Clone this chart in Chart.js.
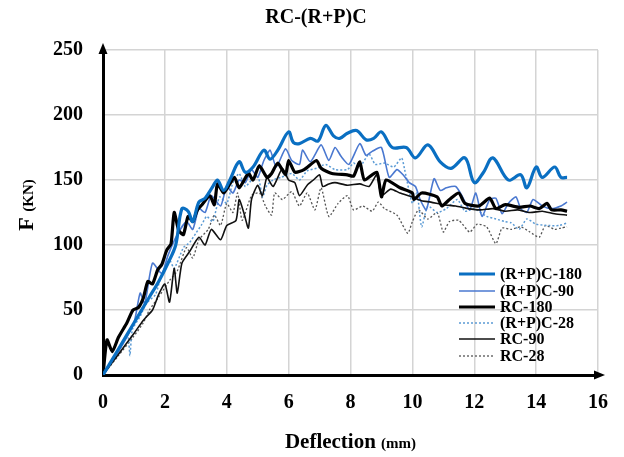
<!DOCTYPE html>
<html><head><meta charset="utf-8">
<script src="https://cdn.jsdelivr.net/npm/chart.js@4.4.1/dist/chart.umd.min.js"></script>
<style>html,body{margin:0;padding:0;background:#fff}#wrap{width:624px;height:457px}</style>
</head><body><div id="wrap"><canvas id="c" width="624" height="457"></canvas></div>
<script>
const chartTitle = "RC-(R+P)C";
const seriesNames = ["(R+P)C-180", "(R+P)C-90", "RC-180", "(R+P)C-28", "RC-90", "RC-28"];
const xTicks = [0, 2, 4, 6, 8, 10, 12, 14, 16];
const yTicks = [0, 50, 100, 150, 200, 250];

const rpc180X = [0,0.4,0.8,1.2,1.5,1.8,2.1,2.35,2.55,2.75,2.9,3.1,3.3,3.55,3.7,3.9,4.1,4.4,4.6,4.85,5.2,5.4,5.65,6.0,6.15,6.35,6.7,6.95,7.2,7.45,7.65,7.9,8.2,8.5,8.75,9.0,9.35,9.8,10.1,10.5,10.9,11.25,11.7,12.0,12.3,12.6,13.1,13.5,13.7,14.0,14.2,14.6,14.8,15.0];
const rpc180Y = [0,16,32,48,60,72,86,100,128,126,118,133,136,145,150,142,150,164,156,160,173,166,173,187,179,178,182,180,192,184,182,186,188,181,182,187,175,175,167,177,164,159,167,148,156,167,150,154,144,160,152,160,152,152];

const rpc90X = [0,0.5,1.0,1.2,1.35,1.6,1.9,2.1,2.4,2.7,2.9,3.1,3.3,3.5,3.8,4.0,4.2,4.4,4.6,4.8,5.0,5.2,5.4,5.6,5.9,6.1,6.35,6.45,6.7,7.05,7.3,7.5,7.7,7.95,8.3,8.5,8.7,9.0,9.25,9.5,9.7,9.9,10.1,10.25,10.45,10.7,10.9,11.1,11.4,11.6,11.85,12.05,12.25,12.5,12.7,12.9,13.1,13.35,13.5,13.7,13.9,14.2,14.5,14.8,15.0];
const rpc90Y = [0,18,40,63,55,86,78,92,108,118,112,128,125,138,130,145,140,150,148,158,152,165,173,160,174,165,162,173,164,177,165,175,168,162,178,169,172,175,152,158,154,148,145,135,127,151,142,144,145,138,127,140,122,135,136,124,132,137,128,125,135,130,128,130,133];

const rc180X = [0,0.13,0.3,0.5,0.77,0.97,1.15,1.3,1.45,1.6,1.77,1.9,2.06,2.2,2.3,2.45,2.6,2.75,2.9,3.05,3.2,3.45,3.6,3.7,3.9,4.05,4.25,4.4,4.7,4.85,5.05,5.3,5.45,5.65,5.9,6.0,6.2,6.5,6.9,7.05,7.4,7.9,8.1,8.3,8.45,8.85,9.0,9.15,9.6,10.0,10.05,10.3,10.8,10.95,11.2,11.5,11.7,12.15,12.5,12.7,13.0,13.45,13.8,14.1,14.35,14.5,14.8,15.0];
const rc180Y = [0,27,18,29,40,50,52,59,72,70,81,85,96,101,125,111,108,122,118,127,131,138,131,147,140,145,152,144,155,150,161,152,155,163,154,165,156,158,165,159,155,154,153,164,150,156,137,150,144,140,135,140,137,130,135,140,132,130,136,128,131,129,130,128,132,127,127,126];

const rpc28X = [0,0.5,0.8,0.87,0.95,1.2,1.4,1.7,1.9,2.16,2.3,2.6,2.8,3.0,3.2,3.35,3.55,3.77,4.0,4.2,4.4,4.6,4.8,5.0,5.16,5.3,5.5,5.75,6.1,6.35,6.6,6.9,7.2,7.5,7.9,8.1,8.3,8.6,8.8,9.1,9.4,9.65,9.75,10.0,10.15,10.3,10.5,10.8,11.1,11.45,11.7,12.0,12.4,12.7,13.0,13.2,13.45,13.7,14.0,14.4,14.75,15.0];
const rpc28Y = [0,18,30,15,35,45,55,62,78,88,82,98,102,109,116,122,118,137,132,148,155,145,150,154,137,146,150,152,155,150,157,159,162,158,158,163,160,170,162,163,160,167,158,132,140,114,130,125,128,135,126,128,122,120,118,117,112,120,116,115,115,117];

const rc90X = [0,0.5,1.0,1.3,1.6,1.8,2.0,2.15,2.3,2.4,2.55,2.8,3.1,3.3,3.5,3.8,4.0,4.3,4.4,4.55,4.7,4.8,5.0,5.15,5.3,5.5,5.8,6.0,6.2,6.35,6.6,6.8,7.0,7.1,7.3,7.5,7.9,8.3,8.6,8.85,9.0,9.3,9.6,10.0,10.3,10.6,11.0,11.4,11.8,12.2,12.6,13.0,13.4,13.8,14.2,14.6,15.0];
const rc90Y = [0,16,32,42,50,62,70,56,82,63,86,95,106,100,112,104,115,119,135,125,113,135,146,138,152,145,159,150,148,138,146,150,154,145,147,148,146,147,145,154,138,143,140,137,134,133,131,130,128,127,128,126,127,125,126,124,123];

const rc28X = [0,0.5,0.97,1.3,1.5,1.8,2.16,2.4,2.7,2.9,3.1,3.4,3.6,3.8,4.0,4.2,4.35,4.5,4.8,5.06,5.25,5.45,5.55,5.8,6.1,6.35,6.6,6.85,7.05,7.3,7.6,7.9,8.1,8.4,8.7,8.9,9.1,9.5,9.85,10.0,10.2,10.5,10.8,11.0,11.2,11.5,11.85,12.1,12.4,12.7,12.9,13.2,13.5,13.8,14.1,14.3,14.6,14.8,15.0];
const rc28Y = [0,15,29,40,50,60,73,80,98,90,104,112,123,115,132,125,140,119,138,140,130,123,140,135,141,130,140,127,144,122,132,138,127,130,126,133,128,123,109,118,127,120,125,110,118,119,110,116,114,101,113,112,114,110,106,115,112,113,114];

function pts(xs, ys) { return xs.map((x, i) => ({ x: x, y: ys[i] })); }

const FONT = "'Liberation Serif', 'Times New Roman', serif";

const styles = [
  { color: '#0A6FC2', width: 3.2, dash: [], tension: 0.35, order: 1 },
  { color: '#4A78D0', width: 1.6, dash: [], tension: 0.2, order: 4 },
  { color: '#000000', width: 3.2, dash: [], tension: 0.2, order: 2 },
  { color: '#5B9BD5', width: 1.5, dash: [2, 2], tension: 0.2, order: 5 },
  { color: '#111111', width: 1.6, dash: [], tension: 0.2, order: 3 },
  { color: '#555555', width: 1.3, dash: [2, 2], tension: 0.2, order: 6 }
];
const seriesData = [pts(rpc180X, rpc180Y), pts(rpc90X, rpc90Y), pts(rc180X, rc180Y), pts(rpc28X, rpc28Y), pts(rc90X, rc90Y), pts(rc28X, rc28Y)];

const datasets = seriesNames.map((name, i) => ({
  label: name,
  data: seriesData[i],
  borderColor: styles[i].color,
  borderWidth: styles[i].width,
  borderDash: styles[i].dash,
  tension: styles[i].tension,
  pointRadius: 0,
  fill: false,
  order: styles[i].order
}));

const decor = {
  id: 'decor',
  afterDraw(chart) {
    const ctx = chart.ctx, a = chart.chartArea;
    ctx.save();
    // arrows
    ctx.fillStyle = '#000';
    ctx.beginPath();
    ctx.moveTo(a.left, a.top - 7);
    ctx.lineTo(a.left - 4.5, a.top + 4);
    ctx.lineTo(a.left + 4.5, a.top + 4);
    ctx.closePath(); ctx.fill();
    ctx.beginPath();
    ctx.moveTo(a.right + 7, a.bottom);
    ctx.lineTo(a.right - 4, a.bottom - 4.5);
    ctx.lineTo(a.right - 4, a.bottom + 4.5);
    ctx.closePath(); ctx.fill();
    // title
    ctx.fillStyle = '#000';
    ctx.textAlign = 'center';
    ctx.textBaseline = 'middle';
    ctx.font = 'bold 20px ' + FONT;
    ctx.fillText(chartTitle, 316, 18);
    // x title
    ctx.textBaseline = 'alphabetic';
    ctx.font = 'bold 21px ' + FONT;
    const w1 = ctx.measureText('Deflection ').width;
    ctx.font = 'bold 15px ' + FONT;
    const w2 = ctx.measureText('(mm)').width;
    let x0 = (a.left + a.right) / 2 - (w1 + w2) / 2;
    ctx.textAlign = 'left';
    ctx.font = 'bold 21px ' + FONT;
    ctx.fillText('Deflection ', x0, 448);
    ctx.font = 'bold 15px ' + FONT;
    ctx.fillText('(mm)', x0 + w1, 448);
    // y title
    ctx.save();
    ctx.translate(33, 205);
    ctx.rotate(-Math.PI / 2);
    ctx.font = 'bold 22px ' + FONT;
    const v1 = ctx.measureText('F ').width;
    ctx.font = 'bold 15px ' + FONT;
    const v2 = ctx.measureText('(KN)').width;
    let y0 = -(v1 + v2) / 2;
    ctx.font = 'bold 22px ' + FONT;
    ctx.fillText('F ', y0, 0);
    ctx.font = 'bold 15px ' + FONT;
    ctx.fillText('(KN)', y0 + v1, 0);
    ctx.restore();
    // legend
    const rows = [274, 291, 307, 323, 339, 356];
    chart.data.datasets.forEach((ds, i) => {
      const y = rows[i];
      ctx.beginPath();
      ctx.strokeStyle = ds.borderColor;
      ctx.lineWidth = ds.borderWidth;
      ctx.setLineDash(ds.borderDash || []);
      ctx.moveTo(459, y);
      ctx.lineTo(495, y);
      ctx.stroke();
      ctx.setLineDash([]);
      ctx.fillStyle = '#000';
      ctx.font = 'bold 16px ' + FONT;
      ctx.textAlign = 'left';
      ctx.textBaseline = 'middle';
      ctx.fillText(ds.label, 500, y + 1);
    });
    ctx.restore();
  }
};

new Chart(document.getElementById('c'), {
  type: 'line',
  data: { datasets: datasets },
  options: {
    responsive: false,
    animation: false,
    devicePixelRatio: 1,
    layout: { padding: { top: 50, right: 25, bottom: 0, left: 0 } },
    plugins: { legend: { display: false }, title: { display: false }, tooltip: { enabled: false } },
    scales: {
      x: {
        type: 'linear', min: 0, max: 16,
        afterFit(s) { s.height = 82; },
        afterBuildTicks(s) { s.ticks = xTicks.map(v => ({ value: v })); },
        grid: { color: '#d4d4d4', lineWidth: 1.5, drawTicks: false },
        border: { display: true, color: '#000', width: 3 },
        ticks: { padding: 16, color: '#000', font: { family: FONT, size: 20, weight: 'bold' } }
      },
      y: {
        type: 'linear', min: 0, max: 250,
        afterFit(s) { s.width = 103; },
        afterBuildTicks(s) { s.ticks = yTicks.map(v => ({ value: v })); },
        grid: { color: '#d4d4d4', lineWidth: 1.5, drawTicks: false },
        border: { display: true, color: '#000', width: 3 },
        ticks: { padding: 20, color: '#000', font: { family: FONT, size: 20, weight: 'bold' } }
      }
    }
  },
  plugins: [decor]
});
</script></body></html>
